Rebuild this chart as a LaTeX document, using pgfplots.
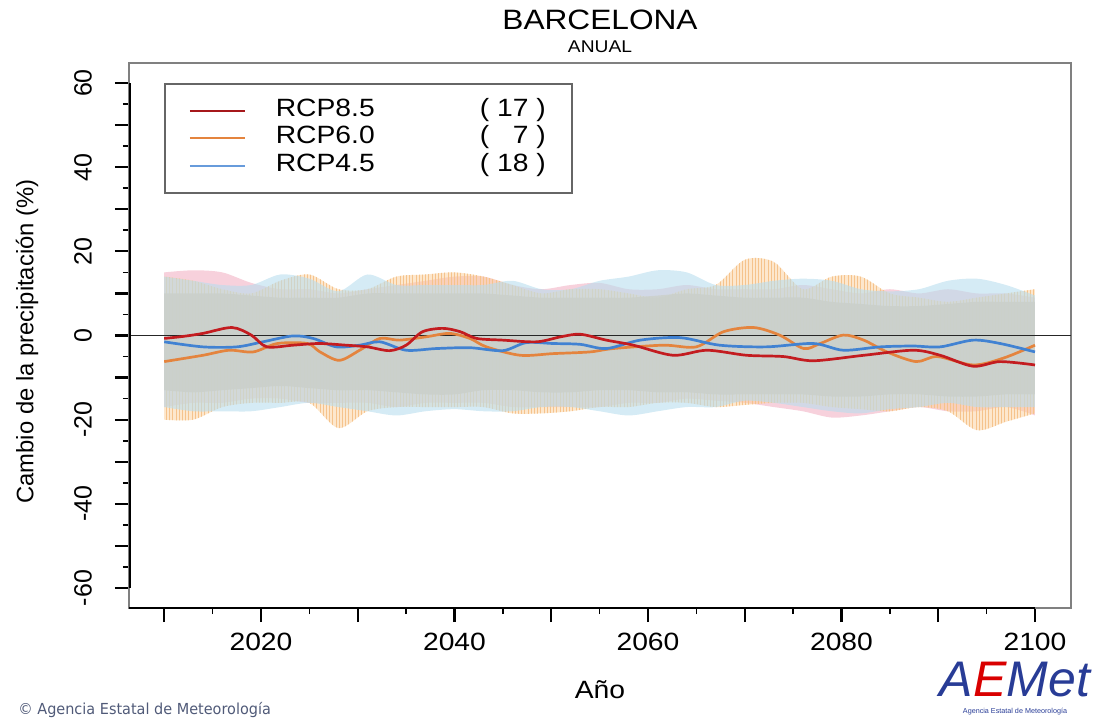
\documentclass[border=0pt]{standalone}
\usepackage{fontspec}
\setmainfont{Liberation Sans}
\newfontfamily\hf[FakeStretch=1.13]{Liberation Sans}
\newfontfamily\ff[FakeStretch=0.95]{DejaVu Sans}
\usepackage{pgfplots}
\usepackage{pgfplotstable}
\pgfplotsset{compat=1.18}
\usepgfplotslibrary{fillbetween}
\usetikzlibrary{patterns.meta}

\definecolor{c85}{RGB}{195,28,32}
\definecolor{c60}{RGB}{228,132,62}
\definecolor{c45}{RGB}{65,130,210}
\definecolor{b85}{RGB}{244,190,205}
\definecolor{b60}{RGB}{252,208,155}
\definecolor{b45}{RGB}{185,222,238}
\definecolor{core}{RGB}{203,208,203}
\definecolor{hatch}{RGB}{245,195,140}
\definecolor{foot}{RGB}{80,90,120}
\definecolor{logob}{RGB}{40,60,150}

\pgfplotstableread{
yr   up85 lo85  up60 lo60  up45 lo45  upc loc
2010 15   -17   14   -20   14   -17   10  -13
2013 15.5 -16   13   -20   13   -18   10  -13.5
2016 15   -16   11   -17   12   -18   10  -13
2019 12.5 -15   10   -16   12   -18   9.5 -12.5
2022 11   -15   13   -16   14.5 -17   9   -12
2025 11   -16   14.5 -16   13.5 -16   9   -12.5
2028 10   -16   11   -22   10.5 -17   9   -13
2031 11   -16   11   -18   14.5 -18   10  -13
2034 12   -17   14   -17   12   -19   10  -13.5
2037 13   -16   14.5 -17   12   -18   10  -14
2040 14   -16   15   -17   12   -17.5 10  -14
2043 14   -16   14   -17   12   -18   10  -13
2046 12   -17   12   -18.5 13   -18   9.5 -13
2049 11   -17   10   -18.5 11   -17   9   -13.5
2052 12   -17   11   -18   11   -17   9   -13.5
2055 12.5 -17   11   -17   13   -18   9   -13
2058 11   -16   10   -17   14   -19   9   -13
2061 11   -16   9    -16   15.5 -18   9.5 -13.5
2064 12   -15   11   -16   15   -17   10  -13.5
2067 11   -15.5 12   -17   12   -17   9.5 -14
2070 11   -16   18   -16.5 12   -15.5 9   -14
2073 11   -17   17.5 -16   13   -16   9   -14
2076 12   -18   11   -16   13.5 -17   9   -14
2079 11   -19.5 14   -17   13   -18   8   -14.5
2082 10   -19   14   -17.5 11   -18.5 7.5 -14.5
2085 11   -18   10   -18   10.5 -17.5 7   -14
2088 10   -17   9    -17   11   -17   7   -14
2091 11   -18   8    -18   13   -16   7.5 -14.5
2094 10   -18   9    -22.5 13.5 -17   8   -14.5
2097 10   -17   10   -20.5 12   -17   8   -14
2100 9    -19   11   -18.5 9.5  -17   8   -14
}\bands

\pgfplotstableread{
yr val
2010 -0.7
2012 -0.2
2014 0.5
2017 1.9
2019 0.1
2020.6 -2.7
2023.3 -2.3
2026 -1.9
2028.8 -2.3
2031 -2.7
2033.3 -3.6
2035 -2.3
2036.7 0.9
2038.8 1.7
2040.6 0.9
2042.3 -0.7
2045 -1.1
2048.5 -1.5
2051 -0.3
2053 0.3
2055.7 -1.1
2058.5 -2.3
2062.6 -4.7
2066.1 -3.5
2070.2 -4.7
2074 -5
2077.1 -6.0
2082.3 -4.7
2087.4 -3.5
2090.2 -4.7
2093.6 -7.3
2096.4 -6.2
2100 -7.0
}\rcpA

\pgfplotstableread{
yr val
2010 -6.2
2014 -4.7
2016.7 -3.5
2019.2 -3.9
2021.7 -1.9
2024.8 -1.9
2026.1 -3.9
2028.1 -5.9
2030.2 -3.5
2032.3 -0.7
2034.3 -1.1
2037.1 -0.3
2039.5 0.5
2041.6 -0.7
2043.3 -2.7
2046.8 -4.7
2050.2 -4.3
2054 -3.9
2056.4 -3.1
2061.6 -2.3
2065 -2.7
2067.8 0.9
2070.9 1.9
2073.6 0.1
2076.1 -3.1
2077.8 -1.9
2080.2 0.1
2082.3 -1.1
2084.7 -3.9
2087.7 -6.2
2089.9 -5.0
2093.6 -7.0
2096.7 -5.4
2100 -2.3
}\rcpB

\pgfplotstableread{
yr val
2010 -1.5
2014 -2.7
2017.5 -2.7
2020.2 -1.5
2023.3 -0.1
2025.4 -0.7
2027.8 -2.7
2030.2 -2.3
2032.3 -1.5
2035 -3.5
2038.1 -3.1
2041.6 -2.9
2045 -3.6
2047.4 -1.7
2050.2 -1.9
2053 -2.1
2055.7 -3.1
2059.2 -1.1
2063.3 -0.5
2067.4 -2.3
2072.2 -2.7
2077.1 -1.9
2080.2 -3.5
2084 -2.7
2087.4 -2.5
2090.2 -2.7
2093.6 -1.1
2096.4 -1.9
2100 -3.9
}\rcpC

\begin{document}
\begin{tikzpicture}
\begin{axis}[
  name=ax, at={(0,0)}, anchor=south west,
  scale only axis, width=471pt, height=272.5pt,
  xmin=2006.36, xmax=2103.72, ymin=-64.75, ymax=64.75,
  axis line style={draw=black!50, line width=0.7pt},
  xtick={2010,2020,...,2100},
  xticklabels={,2020,,2040,,2060,,2080,,2100},
  minor x tick num=1,
  ytick={-60,-50,...,60},
  yticklabels={-60,,-40,,-20,,0,,20,,40,,60},
  minor y tick num=1,
  tick align=outside, xtick pos=bottom, ytick pos=left,
  major tick length=7pt, minor tick length=3pt,
  major tick style={black, line width=1.1pt},
  minor tick style={black, line width=0.8pt},
  xticklabel style={font=\hf\fontsize{12.5}{14}\selectfont, yshift=-2pt},
  yticklabel style={font=\fontsize{12.5}{14}\selectfont, rotate=90, anchor=south},
  yticklabel shift=8pt,
  legend style={at={(0.0372,0.9633)}, anchor=north west, draw=black!60, line width=0.8pt,
    fill=white, inner xsep=12pt, inner ysep=8pt,
    font=\hf\fontsize{12.5}{14}\selectfont,
    nodes={inner sep=1pt, text height=0.72em, text depth=0.2em},
    row sep=2.5pt, legend cell align=left,
    /tikz/every odd column/.append style={column sep=14pt}},
  legend image code/.code={\draw[#1, line width=1pt] (0pt,0pt) -- (27.5pt,0pt);},
]
\addlegendimage{c85!85!black}
\addlegendentry{\makebox[102pt][l]{RCP8.5}( 17 )}
\addlegendimage{c60}
\addlegendentry{\makebox[102pt][l]{RCP6.0}( \phantom{1}7 )}
\addlegendimage{c45!80!white}
\addlegendentry{\makebox[102pt][l]{RCP4.5}( 18 )}

% bands
\addplot[draw=none, smooth, name path=u85, forget plot] table[x=yr, y=up85] {\bands};
\addplot[draw=none, smooth, name path=l85, forget plot] table[x=yr, y=lo85] {\bands};
\addplot[draw=none, smooth, name path=u60, forget plot] table[x=yr, y=up60] {\bands};
\addplot[draw=none, smooth, name path=l60, forget plot] table[x=yr, y=lo60] {\bands};
\addplot[draw=none, smooth, name path=u45, forget plot] table[x=yr, y=up45] {\bands};
\addplot[draw=none, smooth, name path=l45, forget plot] table[x=yr, y=lo45] {\bands};
\addplot[draw=none, smooth, name path=uc, forget plot] table[x=yr, y=upc] {\bands};
\addplot[draw=none, smooth, name path=lc, forget plot] table[x=yr, y=loc] {\bands};

\addplot[fill=b85, fill opacity=0.7, forget plot] fill between[of=u85 and l85];
\addplot[fill=b60, fill opacity=0.5, forget plot] fill between[of=u60 and l60];
\addplot[pattern={Lines[angle=90,distance=1.6pt,line width=0.35pt]}, pattern color=hatch, forget plot] fill between[of=u60 and l60];
\addplot[fill=b45, fill opacity=0.6, forget plot] fill between[of=u45 and l45];
\addplot[fill=core, fill opacity=0.85, forget plot] fill between[of=uc and lc];

\addplot[black!85, line width=0.7pt, forget plot] coordinates {(2006.36,0) (2103.72,0)};

\addplot[c60, line width=1.35pt, smooth, forget plot] table[x=yr, y=val] {\rcpB};
\addplot[c45, line width=1.35pt, smooth, forget plot] table[x=yr, y=val] {\rcpC};
\addplot[c85, line width=1.35pt, smooth, forget plot] table[x=yr, y=val] {\rcpA};

\draw[black, line width=1.5pt] (axis cs:2006.36,-60) -- (axis cs:2006.36,60);
\draw[black, line width=1.5pt] (axis cs:2006.36,-64.75) -- (axis cs:2100,-64.75);
\end{axis}

\node[anchor=base, yshift=17pt] at (ax.north) {\hf\fontsize{14}{16}\selectfont BARCELONA};
\node[anchor=base, yshift=5.5pt] at (ax.north) {\hf\fontsize{8.5}{10}\selectfont ANUAL};
\node[rotate=90, anchor=center] at ([xshift=-51pt, yshift=-3pt]ax.west) {\fontsize{11.9}{14}\selectfont Cambio de la precipitación (\%)};
\node[anchor=base, yshift=-45pt] at (ax.south) {\hf\fontsize{12.5}{14}\selectfont Año};
\node[anchor=base west, text=foot, inner sep=0pt] at ([xshift=-55.5pt, yshift=-53pt]ax.south west) {\ff\fontsize{7.6}{9}\selectfont ©\ Agencia Estatal de Meteorología};
\node[anchor=center, inner sep=0pt] at ([xshift=443pt, yshift=-36pt]ax.south west) {\fontsize{25}{26}\selectfont\itshape\textcolor{logob}{A}\textcolor{red!85!black}{E}\textcolor{logob}{Met}};
\node[anchor=center, inner sep=0pt, text=logob] at ([xshift=443pt, yshift=-52pt]ax.south west) {\fontsize{3.6}{4}\selectfont Agencia Estatal de Meteorología};

\pgfresetboundingbox
\path[use as bounding box] ([xshift=-64.5pt, yshift=-55.5pt]ax.south west) rectangle ++(554pt,359.5pt);
\end{tikzpicture}
\end{document}
